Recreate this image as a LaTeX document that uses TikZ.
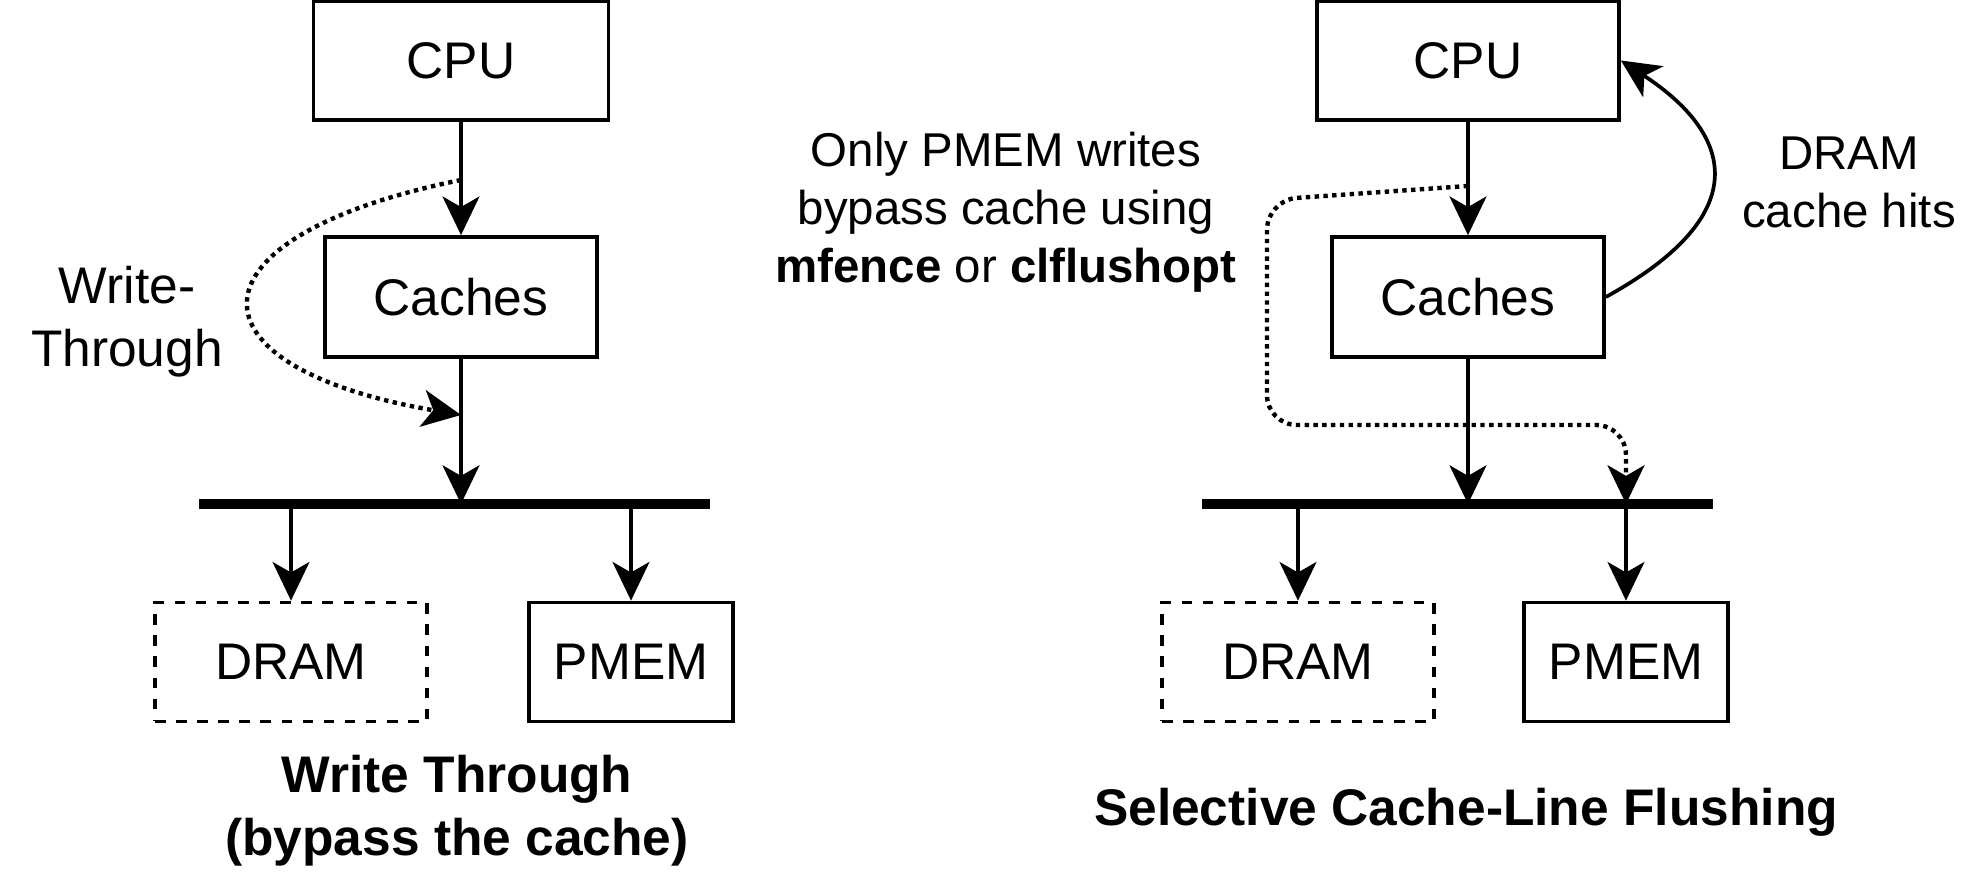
\documentclass[tikz,border=0pt]{standalone}
\usepackage{fontspec}
\setmainfont{Liberation Sans}
\usetikzlibrary{arrows.meta}

\begin{document}
\begin{tikzpicture}[>={Stealth[length=11pt,width=10.5pt,inset=3pt]},
  line width=1.05pt,
  every node/.style={font=\fontsize{14.65pt}{17.9pt}\selectfont},
  box/.style={draw, minimum height=1.19cm, inner sep=0pt},
  note/.style={align=center, font=\fontsize{13.5pt}{16.5pt}\selectfont},
  caption/.style={align=center, font=\fontsize{14.65pt}{17.9pt}\selectfont\bfseries},
  bus/.style={line width=2.9pt},
  wt/.style={line width=1.25pt, dash pattern=on 1.25pt off 1.25pt}]
  \useasboundingbox (0,0) rectangle (19.76,8.72);
  % write through
  \node[box, minimum width=2.95cm] (cpu1) at (4.61,8.115) {CPU};
  \node[box, minimum width=2.72cm, minimum height=1.2cm] (caches1) at (4.61,5.75) {Caches};
  \node[box, dashed, minimum width=2.72cm] (dram1) at (2.91,2.10) {DRAM};
  \node[box, minimum width=2.04cm] (pmem1) at (6.31,2.10) {PMEM};
  \coordinate (bus1w) at (1.99,3.68);
  \coordinate (bus1e) at (7.095,3.68);
  \draw[->] (cpu1) -- (caches1);
  \draw[->] (caches1) -- (caches1 |- bus1w);
  \draw[->] (dram1 |- bus1w) -- (dram1);
  \draw[->] (pmem1 |- bus1w) -- (pmem1);
  \draw[bus] (bus1w) -- (bus1e);
  \coordinate (wt1a) at (4.61,6.92);
  \coordinate (wt1b) at (4.61,4.57);
  \draw[->, wt] (wt1a) .. controls (1.8,6.35) and (1.8,5.05) .. (wt1b);
  \node[align=center] (wtlabel) at (1.27,5.50) {Write-\\Through};
  \node[caption] (title1) at (4.57,0.61) {Write Through\\(bypass the cache)};
  % selective flushing
  \node[box, minimum width=3.02cm] (cpu2) at (14.68,8.115) {CPU};
  \node[box, minimum width=2.72cm, minimum height=1.2cm] (caches2) at (14.68,5.75) {Caches};
  \node[box, dashed, minimum width=2.72cm] (dram2) at (12.98,2.10) {DRAM};
  \node[box, minimum width=2.04cm] (pmem2) at (16.26,2.10) {PMEM};
  \coordinate (bus2w) at (12.02,3.68);
  \coordinate (bus2e) at (17.13,3.68);
  \draw[->] (cpu2) -- (caches2);
  \draw[->] (caches2) -- (caches2 |- bus2w);
  \draw[->] (dram2 |- bus2w) -- (dram2);
  \draw[->] (pmem2 |- bus2w) -- (pmem2);
  \draw[bus] (bus2w) -- (bus2e);
  \coordinate (fl2a) at (14.68,6.86);
  \coordinate (fl2b) at (12.67,6.72);
  \coordinate (fl2c) at (12.67,4.47);
  \coordinate (fl2d) at (16.26,4.47);
  \draw[->, wt, rounded corners=0.3cm] (fl2a) -- (fl2b) -- (fl2c) -- (fl2d) -- (pmem2 |- bus2w);
  \draw[->] (caches2.east) .. controls (17.6,6.6) and (17.3,7.4) .. (cpu2.east);
  \node[note] (hits) at (18.49,6.90) {DRAM\\cache hits};
  \node[note] (pmemnote) at (10.06,6.60) {Only PMEM writes\\bypass cache using\\\textbf{mfence} or \textbf{clflushopt}};
  \node[caption] (title2) at (14.66,0.60) {Selective Cache-Line Flushing};
\end{tikzpicture}
\end{document}
